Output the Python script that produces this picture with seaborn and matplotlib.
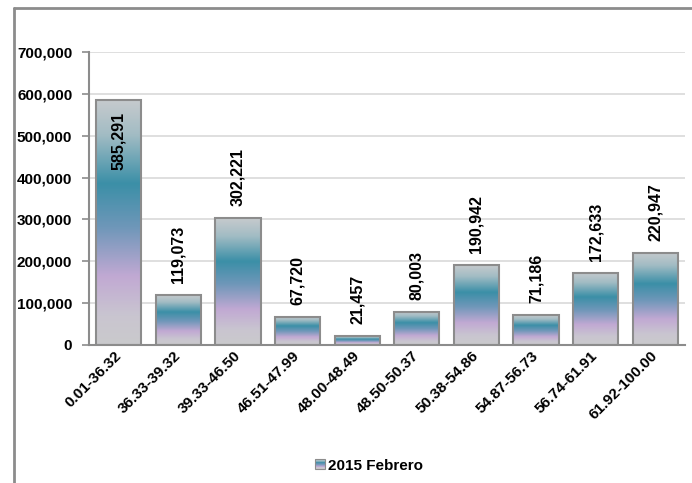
import numpy as np
import pandas as pd
import matplotlib
matplotlib.use("Agg")
import matplotlib.pyplot as plt
import seaborn as sns
from matplotlib.colors import LinearSegmentedColormap
from matplotlib.patches import Rectangle
from matplotlib.legend_handler import HandlerPatch
from matplotlib.lines import Line2D
from matplotlib.ticker import FuncFormatter, MultipleLocator, FixedLocator
from matplotlib import transforms

# Data
categories = ["0.01-36.32", "36.33-39.32", "39.33-46.50", "46.51-47.99",
              "48.00-48.49", "48.50-50.37", "50.38-54.86", "54.87-56.73",
              "56.74-61.91", "61.92-100.00"]
values = [585291, 119073, 302221, 67720, 21457, 80003, 190942, 71186,
          172633, 220947]
series_name = "2015 Febrero"

df = pd.DataFrame({"rango": categories, "valor": values})

sns.set_theme(style="white")
plt.rcParams["font.family"] = ["Liberation Sans", "DejaVu Sans"]
plt.rcParams["font.weight"] = "bold"
for key in ["text.color", "axes.labelcolor", "xtick.labelcolor",
            "ytick.labelcolor"]:
    plt.rcParams[key] = "black"

FS = 11

# Vertical gradient used inside each bar (top -> bottom)
grad_cmap = LinearSegmentedColormap.from_list(
    "barfill",
    [(0.00, "#c6cacd"), (0.14, "#a2bcc4"), (0.34, "#3b8fa7"),
     (0.52, "#6f97b9"), (0.72, "#c1a9d3"), (0.88, "#c9c5d0"),
     (1.00, "#cacacc")])
grad = np.linspace(0, 1, 256).reshape(-1, 1)

fig = plt.figure(figsize=(6.92, 4.83), dpi=100)
ax = fig.add_axes([89 / 692, 138 / 483, 596 / 692, 293 / 483])

sns.barplot(data=df, x="rango", y="valor", ax=ax, width=0.76,
            color="#cccccc", edgecolor="#8c8c8c", linewidth=1.5,
            saturation=1, zorder=3)

ax.set_xlim(-0.5, len(categories) - 0.5)
ax.set_ylim(0, 700000)

# Gradient fill clipped to each bar
for p in list(ax.patches):
    x0, y0 = p.get_x(), p.get_y()
    w, h = p.get_width(), p.get_height()
    p.set_facecolor("none")
    im = ax.imshow(grad, cmap=grad_cmap, aspect="auto",
                   extent=(x0, x0 + w, y0, y0 + h), origin="upper",
                   zorder=2.5, interpolation="bilinear")
    im.set_clip_path(p)
ax.set_xlim(-0.5, len(categories) - 0.5)
ax.set_ylim(0, 700000)

# Grid and spines
ax.yaxis.set_major_locator(MultipleLocator(100000))
ax.yaxis.set_major_formatter(FuncFormatter(lambda v, _: f"{int(v):,}"))
ax.grid(axis="y", color="#d9d9d9", linewidth=1.2, zorder=0)
ax.set_axisbelow(True)
for s in ["top", "right"]:
    ax.spines[s].set_visible(False)
for s in ["left", "bottom"]:
    ax.spines[s].set_color("#8c8c8c")
    ax.spines[s].set_linewidth(1.5)

ax.set_xlabel("")
ax.set_ylabel("")

# Tick marks on category boundaries
ax.xaxis.set_minor_locator(FixedLocator(np.arange(-0.5, len(categories), 1.0)))
ax.tick_params(axis="x", which="major", length=0, pad=6)
ax.tick_params(axis="x", which="minor", length=5, width=1.2,
               color="#8c8c8c", direction="out")
ax.tick_params(axis="y", which="major", length=5, width=1.2,
               color="#8c8c8c", direction="out", pad=7, left=True)
ax.tick_params(axis="both", labelsize=FS, labelcolor="black")

ax.set_xticks(range(len(categories)))
ax.set_xticklabels(categories, rotation=45, ha="right", va="center",
                   rotation_mode="anchor", fontweight="bold", fontsize=FS)
for lbl in ax.get_yticklabels():
    lbl.set_fontweight("bold")

# Value labels
for i, v in enumerate(values):
    label = f"{v:,}"
    if v > 500000:
        off = transforms.offset_copy(ax.transData, fig=fig, x=0, y=-12,
                                     units="dots")
        ax.text(i, v, label, rotation=90, ha="center", va="top",
                fontsize=FS + 0.5, fontweight="bold", transform=off, zorder=5)
    else:
        off = transforms.offset_copy(ax.transData, fig=fig, x=0, y=12,
                                     units="dots")
        ax.text(i, v, label, rotation=90, ha="center", va="bottom",
                fontsize=FS + 0.5, fontweight="bold", transform=off, zorder=5)


# Legend with a small gradient swatch
class GradientHandler(HandlerPatch):
    def create_artists(self, legend, orig_handle, xdescent, ydescent,
                       width, height, fontsize, trans):
        side = min(width, height)
        x0 = -xdescent + (width - side) / 2
        y0 = -ydescent + (height - side) / 2
        n = 12
        arts = []
        for k in range(n):
            c = grad_cmap(1 - (k + 0.5) / n)
            r = Rectangle((x0, y0 + side * k / n), side, side / n,
                          facecolor=c, edgecolor="none", transform=trans)
            arts.append(r)
        arts.append(Rectangle((x0, y0), side, side, facecolor="none",
                              edgecolor="#8c8c8c", linewidth=0.8,
                              transform=trans))
        return arts


handle = Rectangle((0, 0), 1, 1)
fig.legend([handle], [series_name], handler_map={Rectangle: GradientHandler()},
           loc="center", bbox_to_anchor=(369 / 692, 1 - 465.5 / 483),
           frameon=False, handlelength=0.65, handleheight=0.65,
           handletextpad=0.15, prop={"weight": "bold", "size": 11})

# Chart frame
fig.add_artist(Line2D([14 / 692, 1.0], [1 - 8 / 483, 1 - 8 / 483],
                      transform=fig.transFigure, color="#8c8c8c", linewidth=2))
fig.add_artist(Line2D([14 / 692, 14 / 692], [0, 1 - 8 / 483],
                      transform=fig.transFigure, color="#8c8c8c", linewidth=2))

fig.savefig("out.png", dpi=100)
